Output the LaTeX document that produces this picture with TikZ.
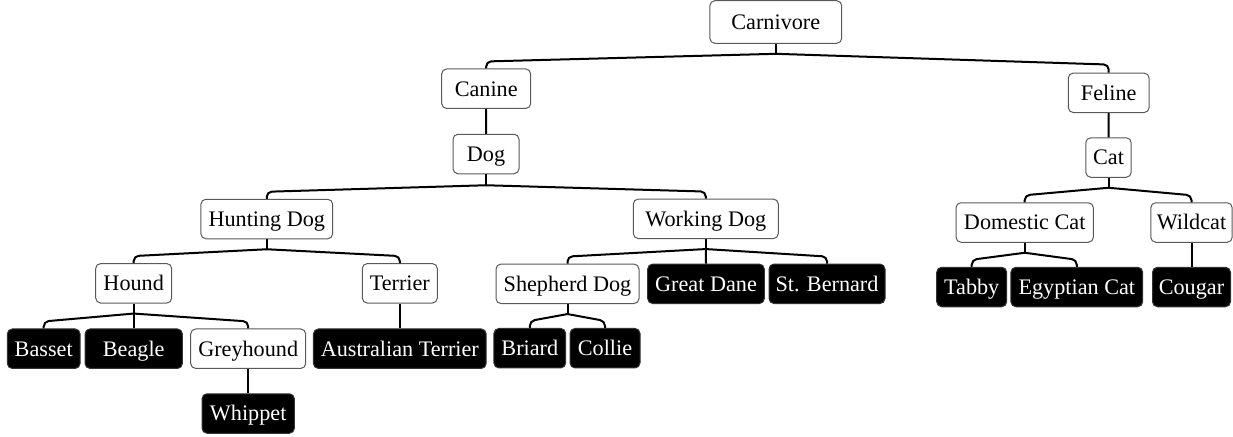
\documentclass[tikz,border=0pt]{standalone}
\usepackage{fontspec}
\setmainfont{Liberation Serif}
\usetikzlibrary{positioning,calc}

\begin{document}
\begin{tikzpicture}[x=0.5pt,y=-0.5pt,
  main node/.style={rectangle,rounded corners=2.5pt,draw=black!65,line width=0.5pt,
    font=\fontsize{11.1}{13}\selectfont,minimum height=19.75pt,inner xsep=1.5pt,
    text height=7.4pt,text depth=0pt},
  leaf node/.style={main node,fill=black,draw=black!80,text=white},
  link/.style={line width=1pt,rounded corners=2.5pt}]

  \useasboundingbox (0,0) rectangle (1233,436);

  \node[main node,minimum width=65.9pt,minimum height=21.3pt] at (775.8,22) (carnivore) {Carnivore};
  \node[main node,minimum width=44.5pt] at (486.2,88.7) (canine) {Canine};
  \node[main node,minimum width=40.4pt] at (1108.7,92.8) (feline) {Feline};
  \node[main node,minimum width=33pt] at (486,154) (dog) {Dog};
  \node[main node,minimum width=22.7pt] at (1108.5,157.5) (cat) {Cat};
  \node[main node,minimum width=65.9pt] at (266.8,219) (hunting) {Hunting Dog};
  \node[main node,minimum width=72.5pt] at (705.8,218.8) (working) {Working Dog};
  \node[main node,minimum width=68.7pt] at (1024.7,222.5) (domestic) {Domestic Cat};
  \node[main node,minimum width=40.7pt] at (1191.5,222.5) (wildcat) {Wildcat};
  \node[main node,minimum width=38pt] at (133.7,283.3) (hound) {Hound};
  \node[main node,minimum width=37.5pt] at (399.8,283.3) (terrier) {Terrier};
  \node[main node,minimum width=71.5pt] at (567.5,283.8) (shepherd) {Shepherd Dog};
  \node[leaf node,minimum width=58.3pt] at (706,283.8) (greatdane) {Great Dane};
  \node[leaf node,minimum width=58pt] at (827,283.8) (stbernard) {St. Bernard};
  \node[leaf node,minimum width=35pt] at (971.7,287) (tabby) {Tabby};
  \node[leaf node,minimum width=65.9pt] at (1076.8,287) (egyptian) {Egyptian Cat};
  \node[leaf node,minimum width=39pt] at (1191.5,287) (cougar) {Cougar};
  \node[leaf node,minimum width=36.4pt] at (43.7,348.7) (basset) {Basset};
  \node[leaf node,minimum width=48.7pt] at (133.7,348.7) (beagle) {Beagle};
  \node[main node,minimum width=57.5pt] at (248.2,348.7) (greyhound) {Greyhound};
  \node[leaf node,minimum width=86.4pt] at (399.8,348.7) (austerrier) {Australian Terrier};
  \node[leaf node,minimum width=35.9pt] at (529.8,348.2) (briard) {Briard};
  \node[leaf node,minimum width=35pt] at (605,348.2) (collie) {Collie};
  \node[leaf node,minimum width=46.2pt] at (248.2,413.5) (whippet) {Whippet};

  \coordinate (carnivore j) at ([yshift=-5pt]carnivore.south);
  \coordinate (dog j) at ([yshift=-5.5pt]dog.south);
  \coordinate (cat j) at ([yshift=-5pt]cat.south);
  \coordinate (hunting j) at ([yshift=-5pt]hunting.south);
  \coordinate (working j) at ([yshift=-5pt]working.south);
  \coordinate (domestic j) at ([yshift=-5pt]domestic.south);
  \coordinate (hound j) at ([yshift=-5pt]hound.south);
  \coordinate (shepherd j) at ([yshift=-5pt]shepherd.south);

  \draw[link] (carnivore.south) -- (carnivore j);
  \draw[link] (carnivore j) -- ([yshift=3.5pt]canine.north) -- (canine.north);
  \draw[link] (carnivore j) -- ([yshift=4pt]feline.north) -- (feline.north);
  \draw[link] (canine.south) -- (dog.north);
  \draw[link] (feline.south) -- (cat.north);
  \draw[link] (dog.south) -- (dog j);
  \draw[link] (dog j) -- ([yshift=3.5pt]hunting.north) -- (hunting.north);
  \draw[link] (dog j) -- ([yshift=3.5pt]working.north) -- (working.north);
  \draw[link] (cat.south) -- (cat j);
  \draw[link] (cat j) -- ([yshift=3.5pt]domestic.north) -- (domestic.north);
  \draw[link] (cat j) -- ([yshift=3.5pt]wildcat.north) -- (wildcat.north);
  \draw[link] (hunting.south) -- (hunting j);
  \draw[link] (hunting j) -- ([yshift=3.5pt]hound.north) -- (hound.north);
  \draw[link] (hunting j) -- ([yshift=3.5pt]terrier.north) -- (terrier.north);
  \draw[link] (working.south) -- (working j);
  \draw[link] (working j) -- ([yshift=3.5pt]shepherd.north) -- (shepherd.north);
  \draw[link] (working j) -- (greatdane.north);
  \draw[link] (working j) -- ([yshift=3.5pt]stbernard.north) -- (stbernard.north);
  \draw[link] (domestic.south) -- (domestic j);
  \draw[link] (domestic j) -- ([yshift=3.5pt]tabby.north) -- (tabby.north);
  \draw[link] (domestic j) -- ([yshift=3.5pt]egyptian.north) -- (egyptian.north);
  \draw[link] (wildcat.south) -- (cougar.north);
  \draw[link] (hound.south) -- (hound j);
  \draw[link] (hound j) -- ([yshift=3.5pt]basset.north) -- (basset.north);
  \draw[link] (hound j) -- (beagle.north);
  \draw[link] (hound j) -- ([yshift=3.5pt]greyhound.north) -- (greyhound.north);
  \draw[link] (terrier.south) -- (austerrier.north);
  \draw[link] (shepherd.south) -- (shepherd j);
  \draw[link] (shepherd j) -- ([yshift=3.5pt]briard.north) -- (briard.north);
  \draw[link] (shepherd j) -- ([yshift=3.5pt]collie.north) -- (collie.north);
  \draw[link] (greyhound.south) -- (whippet.north);
\end{tikzpicture}
\end{document}
